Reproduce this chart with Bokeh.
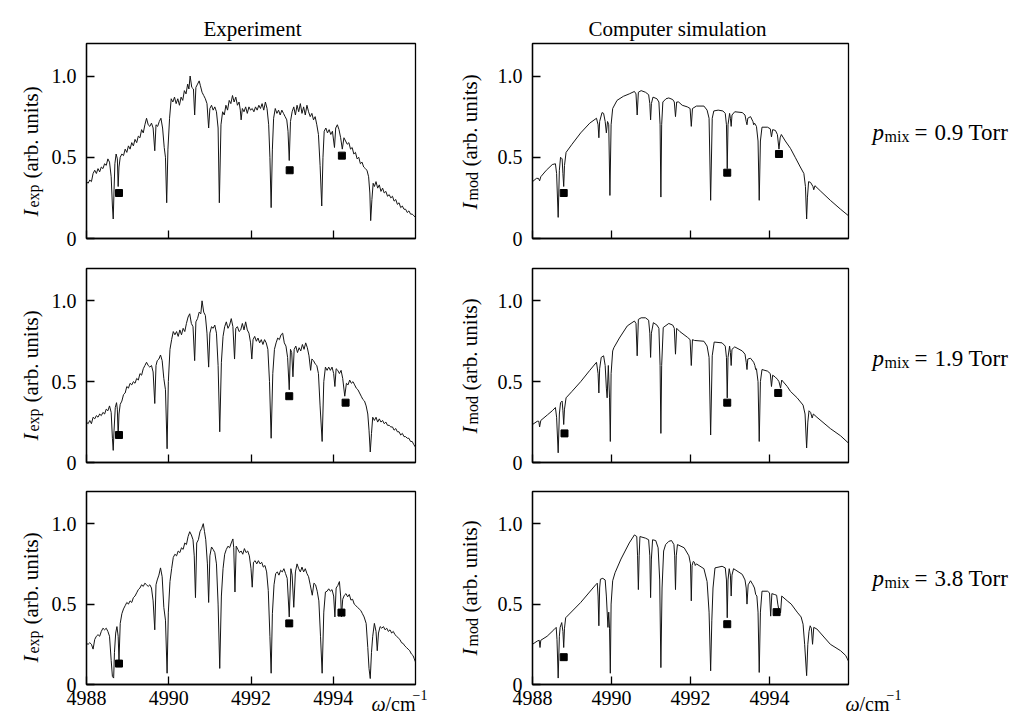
import math
from bokeh.plotting import figure
from bokeh.layouts import column, row
from bokeh.models import Label, FixedTicker, Range1d, GridBox
from bokeh.embed import file_html
from bokeh.resources import INLINE

# ---------------- data ----------------
row_pressures = ["0.9", "1.9", "3.8"]
x_ticks = [4988, 4990, 4992, 4994]
y_ticks = [0, 0.5, 1.0]

exp_09 = [(4988.00,.35),(4988.04,.34),(4988.08,.36),(4988.12,.35),(4988.16,.40),(4988.20,.42),(4988.24,.40),(4988.28,.43),(4988.32,.41),(4988.36,.44),(4988.40,.43),(4988.44,.46),(4988.48,.45),(4988.52,.49),(4988.56,.47),(4988.60,.38),(4988.63,.20),(4988.65,.12),(4988.67,.30),(4988.69,.46),(4988.72,.52),(4988.75,.49),(4988.77,.32),(4988.79,.44),(4988.82,.50),(4988.86,.52),(4988.90,.51),(4988.94,.55),(4988.98,.53),(4989.02,.57),(4989.06,.55),(4989.10,.59),(4989.14,.57),(4989.18,.61),(4989.22,.59),(4989.26,.63),(4989.30,.62),(4989.34,.67),(4989.38,.65),(4989.42,.70),(4989.46,.74),(4989.50,.70),(4989.54,.69),(4989.58,.71),(4989.62,.68),(4989.66,.54),(4989.69,.70),(4989.73,.69),(4989.77,.72),(4989.81,.74),(4989.85,.68),(4989.89,.56),(4989.92,.50),(4989.95,.22),(4989.98,.55),(4990.02,.74),(4990.06,.86),(4990.10,.84),(4990.14,.87),(4990.18,.83),(4990.22,.86),(4990.26,.82),(4990.30,.87),(4990.34,.85),(4990.38,.91),(4990.42,.89),(4990.46,.95),(4990.49,.92),(4990.52,1.0),(4990.56,.93),(4990.60,.92),(4990.63,.76),(4990.66,.93),(4990.70,.95),(4990.74,.97),(4990.77,.94),(4990.81,.90),(4990.85,.88),(4990.89,.86),(4990.93,.83),(4990.97,.68),(4991.00,.80),(4991.04,.82),(4991.08,.79),(4991.12,.81),(4991.16,.78),(4991.20,.68),(4991.23,.22),(4991.27,.70),(4991.31,.78),(4991.35,.76),(4991.39,.82),(4991.43,.79),(4991.47,.85),(4991.51,.83),(4991.55,.88),(4991.59,.84),(4991.63,.87),(4991.67,.82),(4991.71,.84),(4991.74,.79),(4991.76,.73),(4991.79,.80),(4991.83,.78),(4991.87,.81),(4991.91,.77),(4991.95,.81),(4991.99,.79),(4992.03,.80),(4992.07,.78),(4992.11,.81),(4992.15,.79),(4992.19,.82),(4992.23,.80),(4992.27,.83),(4992.31,.79),(4992.35,.84),(4992.39,.80),(4992.43,.70),(4992.46,.50),(4992.49,.19),(4992.52,.55),(4992.55,.74),(4992.59,.80),(4992.63,.77),(4992.67,.79),(4992.71,.76),(4992.75,.79),(4992.79,.77),(4992.83,.75),(4992.87,.73),(4992.90,.66),(4992.93,.48),(4992.96,.72),(4993.00,.78),(4993.04,.81),(4993.08,.76),(4993.12,.82),(4993.16,.78),(4993.20,.83),(4993.24,.77),(4993.28,.81),(4993.32,.76),(4993.36,.82),(4993.40,.78),(4993.44,.75),(4993.48,.77),(4993.52,.73),(4993.56,.75),(4993.60,.70),(4993.64,.64),(4993.68,.45),(4993.72,.20),(4993.75,.50),(4993.78,.66),(4993.82,.68),(4993.86,.65),(4993.90,.67),(4993.94,.64),(4993.98,.66),(4994.01,.60),(4994.03,.56),(4994.06,.68),(4994.10,.70),(4994.14,.67),(4994.18,.62),(4994.22,.55),(4994.26,.62),(4994.30,.60),(4994.34,.58),(4994.38,.59),(4994.42,.55),(4994.46,.56),(4994.50,.52),(4994.54,.53),(4994.58,.49),(4994.62,.50),(4994.66,.46),(4994.70,.47),(4994.74,.44),(4994.78,.43),(4994.82,.42),(4994.86,.38),(4994.89,.28),(4994.91,.11),(4994.94,.24),(4994.97,.34),(4995.00,.32),(4995.04,.35),(4995.08,.31),(4995.12,.33),(4995.16,.29),(4995.20,.31),(4995.24,.28),(4995.28,.29),(4995.32,.26),(4995.36,.27),(4995.40,.25),(4995.44,.26),(4995.48,.23),(4995.52,.24),(4995.56,.21),(4995.60,.22),(4995.64,.19),(4995.68,.20),(4995.72,.18),(4995.76,.18),(4995.80,.16),(4995.84,.17),(4995.88,.15),(4995.92,.15),(4995.96,.14),(4996.00,.13)]

exp_19 = [(4988.00,.25),(4988.04,.24),(4988.08,.26),(4988.12,.24),(4988.16,.28),(4988.20,.27),(4988.24,.29),(4988.28,.28),(4988.32,.30),(4988.36,.29),(4988.40,.31),(4988.44,.30),(4988.48,.33),(4988.52,.32),(4988.56,.35),(4988.60,.31),(4988.63,.15),(4988.65,.075),(4988.67,.20),(4988.70,.34),(4988.73,.37),(4988.75,.33),(4988.77,.16),(4988.79,.30),(4988.82,.36),(4988.86,.38),(4988.90,.42),(4988.94,.43),(4988.98,.47),(4989.02,.46),(4989.06,.49),(4989.10,.48),(4989.14,.50),(4989.18,.49),(4989.22,.52),(4989.26,.51),(4989.30,.55),(4989.34,.54),(4989.38,.58),(4989.42,.60),(4989.46,.62),(4989.50,.60),(4989.54,.59),(4989.58,.60),(4989.62,.56),(4989.66,.365),(4989.69,.60),(4989.72,.63),(4989.76,.64),(4989.80,.665),(4989.84,.63),(4989.88,.52),(4989.92,.45),(4989.96,.085),(4989.99,.50),(4990.03,.70),(4990.07,.76),(4990.11,.81),(4990.15,.79),(4990.19,.81),(4990.23,.78),(4990.27,.82),(4990.31,.79),(4990.35,.83),(4990.39,.81),(4990.43,.86),(4990.47,.90),(4990.51,.92),(4990.55,.86),(4990.59,.84),(4990.63,.63),(4990.66,.87),(4990.70,.89),(4990.74,.93),(4990.78,.92),(4990.81,1.0),(4990.85,.93),(4990.89,.91),(4990.93,.80),(4990.97,.59),(4991.00,.80),(4991.04,.84),(4991.08,.83),(4991.12,.85),(4991.16,.80),(4991.20,.60),(4991.24,.19),(4991.28,.62),(4991.32,.78),(4991.36,.84),(4991.40,.87),(4991.44,.83),(4991.48,.85),(4991.52,.89),(4991.56,.84),(4991.60,.64),(4991.63,.83),(4991.67,.84),(4991.71,.81),(4991.75,.82),(4991.79,.86),(4991.83,.82),(4991.87,.87),(4991.91,.82),(4991.95,.80),(4991.99,.74),(4992.02,.64),(4992.05,.76),(4992.09,.78),(4992.13,.75),(4992.17,.77),(4992.21,.74),(4992.25,.76),(4992.29,.73),(4992.33,.76),(4992.37,.74),(4992.41,.70),(4992.45,.50),(4992.49,.15),(4992.53,.55),(4992.57,.70),(4992.61,.74),(4992.65,.77),(4992.69,.76),(4992.73,.79),(4992.77,.80),(4992.81,.74),(4992.85,.72),(4992.89,.65),(4992.93,.45),(4992.96,.70),(4992.99,.68),(4993.02,.53),(4993.05,.70),(4993.09,.72),(4993.13,.68),(4993.17,.71),(4993.21,.69),(4993.25,.73),(4993.29,.70),(4993.33,.74),(4993.37,.71),(4993.41,.66),(4993.45,.57),(4993.48,.64),(4993.52,.63),(4993.56,.61),(4993.60,.60),(4993.64,.55),(4993.68,.35),(4993.73,.13),(4993.77,.50),(4993.81,.59),(4993.85,.57),(4993.89,.59),(4993.93,.57),(4993.97,.59),(4994.01,.55),(4994.04,.47),(4994.07,.58),(4994.11,.57),(4994.15,.55),(4994.19,.57),(4994.23,.52),(4994.28,.41),(4994.32,.49),(4994.36,.48),(4994.40,.51),(4994.44,.49),(4994.48,.50),(4994.52,.48),(4994.56,.46),(4994.60,.45),(4994.64,.43),(4994.68,.41),(4994.72,.39),(4994.76,.38),(4994.80,.35),(4994.84,.30),(4994.87,.20),(4994.90,.065),(4994.93,.18),(4994.96,.28),(4995.00,.26),(4995.04,.28),(4995.08,.25),(4995.12,.27),(4995.16,.25),(4995.20,.26),(4995.24,.24),(4995.28,.25),(4995.32,.23),(4995.36,.23),(4995.40,.22),(4995.44,.22),(4995.48,.20),(4995.52,.21),(4995.56,.19),(4995.60,.19),(4995.64,.17),(4995.68,.18),(4995.72,.16),(4995.76,.16),(4995.80,.15),(4995.84,.15),(4995.88,.13),(4995.92,.13),(4995.96,.11),(4996.00,.095)]

exp_38 = [(4988.00,.255),(4988.04,.25),(4988.08,.26),(4988.12,.25),(4988.16,.22),(4988.20,.28),(4988.24,.30),(4988.28,.31),(4988.32,.30),(4988.36,.33),(4988.40,.35),(4988.44,.34),(4988.48,.35),(4988.52,.33),(4988.56,.30),(4988.60,.15),(4988.63,.05),(4988.66,.04),(4988.68,.20),(4988.71,.32),(4988.74,.36),(4988.77,.30),(4988.79,.15),(4988.82,.38),(4988.86,.44),(4988.90,.47),(4988.94,.49),(4988.98,.51),(4989.02,.50),(4989.06,.52),(4989.10,.51),(4989.14,.54),(4989.18,.55),(4989.22,.57),(4989.26,.59),(4989.30,.60),(4989.34,.62),(4989.38,.61),(4989.42,.63),(4989.46,.62),(4989.50,.61),(4989.54,.62),(4989.58,.60),(4989.62,.52),(4989.66,.34),(4989.69,.62),(4989.72,.65),(4989.76,.68),(4989.80,.725),(4989.84,.67),(4989.88,.48),(4989.92,.40),(4989.96,.07),(4989.99,.45),(4990.03,.64),(4990.07,.72),(4990.11,.79),(4990.15,.81),(4990.19,.80),(4990.23,.83),(4990.27,.82),(4990.31,.85),(4990.35,.84),(4990.39,.88),(4990.43,.87),(4990.47,.92),(4990.51,.95),(4990.55,.93),(4990.59,.90),(4990.62,.80),(4990.65,.54),(4990.68,.88),(4990.72,.90),(4990.76,.95),(4990.80,.97),(4990.84,1.0),(4990.87,.95),(4990.90,.90),(4990.94,.75),(4990.97,.51),(4991.00,.80),(4991.04,.855),(4991.08,.84),(4991.12,.82),(4991.16,.75),(4991.20,.50),(4991.24,.10),(4991.28,.55),(4991.32,.72),(4991.36,.81),(4991.40,.84),(4991.44,.86),(4991.48,.85),(4991.52,.88),(4991.56,.905),(4991.58,.85),(4991.61,.575),(4991.64,.86),(4991.68,.84),(4991.72,.82),(4991.76,.83),(4991.80,.81),(4991.84,.845),(4991.88,.82),(4991.92,.83),(4991.96,.80),(4992.00,.72),(4992.03,.605),(4992.06,.76),(4992.10,.77),(4992.14,.75),(4992.18,.77),(4992.22,.75),(4992.26,.76),(4992.30,.73),(4992.34,.74),(4992.38,.70),(4992.42,.585),(4992.46,.30),(4992.49,.07),(4992.52,.44),(4992.56,.62),(4992.60,.69),(4992.64,.70),(4992.68,.68),(4992.72,.71),(4992.76,.70),(4992.80,.72),(4992.84,.69),(4992.88,.66),(4992.93,.42),(4992.97,.72),(4993.00,.68),(4993.04,.48),(4993.08,.70),(4993.12,.75),(4993.16,.72),(4993.20,.70),(4993.24,.73),(4993.28,.70),(4993.32,.72),(4993.36,.69),(4993.40,.67),(4993.44,.62),(4993.49,.555),(4993.53,.63),(4993.57,.62),(4993.61,.58),(4993.65,.52),(4993.69,.30),(4993.73,.07),(4993.77,.45),(4993.81,.575),(4993.85,.58),(4993.89,.595),(4993.93,.58),(4993.97,.59),(4994.01,.55),(4994.04,.42),(4994.07,.60),(4994.11,.615),(4994.15,.64),(4994.18,.55),(4994.20,.42),(4994.23,.53),(4994.27,.555),(4994.31,.565),(4994.35,.545),(4994.39,.56),(4994.43,.525),(4994.47,.53),(4994.51,.50),(4994.55,.49),(4994.59,.48),(4994.63,.47),(4994.67,.46),(4994.71,.44),(4994.75,.42),(4994.80,.38),(4994.84,.23),(4994.87,.10),(4994.90,.037),(4994.93,.20),(4994.96,.30),(4995.00,.38),(4995.04,.33),(4995.07,.21),(4995.10,.32),(4995.14,.36),(4995.18,.35),(4995.22,.36),(4995.26,.34),(4995.30,.35),(4995.34,.33),(4995.38,.34),(4995.42,.32),(4995.46,.33),(4995.50,.31),(4995.54,.30),(4995.58,.29),(4995.62,.28),(4995.66,.26),(4995.70,.255),(4995.74,.24),(4995.78,.23),(4995.82,.22),(4995.86,.21),(4995.90,.19),(4995.94,.18),(4995.97,.16),(4996.00,.14)]

sim_09 = [(4988.00,.35),(4988.10,.37),(4988.15,.37),(4988.18,.355),(4988.21,.38),(4988.35,.42),(4988.50,.455),(4988.58,.46),(4988.61,.40),(4988.65,.13),(4988.68,.42),(4988.71,.50),(4988.75,.49),(4988.77,.40),(4988.79,.32),(4988.81,.45),(4988.85,.53),(4989.00,.58),(4989.22,.65),(4989.45,.71),(4989.62,.74),(4989.66,.70),(4989.68,.62),(4989.70,.72),(4989.76,.775),(4989.80,.77),(4989.84,.72),(4989.87,.65),(4989.90,.72),(4989.93,.70),(4989.96,.265),(4989.99,.70),(4990.03,.80),(4990.14,.85),(4990.30,.875),(4990.45,.89),(4990.58,.905),(4990.62,.89),(4990.65,.76),(4990.68,.90),(4990.75,.91),(4990.86,.90),(4990.94,.885),(4990.97,.83),(4990.99,.73),(4991.01,.83),(4991.05,.87),(4991.15,.86),(4991.20,.84),(4991.23,.70),(4991.25,.255),(4991.27,.70),(4991.30,.84),(4991.38,.86),(4991.45,.865),(4991.55,.855),(4991.59,.84),(4991.62,.75),(4991.65,.84),(4991.70,.84),(4991.79,.82),(4991.92,.81),(4991.99,.80),(4992.02,.69),(4992.05,.80),(4992.15,.815),(4992.34,.815),(4992.42,.79),(4992.47,.74),(4992.51,.235),(4992.55,.74),(4992.59,.785),(4992.70,.79),(4992.82,.785),(4992.88,.77),(4992.91,.70),(4992.93,.43),(4992.95,.70),(4992.99,.77),(4993.01,.74),(4993.03,.69),(4993.05,.76),(4993.12,.78),(4993.31,.775),(4993.38,.76),(4993.41,.72),(4993.43,.70),(4993.45,.74),(4993.52,.75),(4993.58,.72),(4993.60,.70),(4993.62,.71),(4993.67,.69),(4993.71,.60),(4993.74,.235),(4993.77,.60),(4993.81,.685),(4993.95,.685),(4994.02,.675),(4994.05,.625),(4994.08,.67),(4994.15,.665),(4994.20,.64),(4994.24,.55),(4994.27,.62),(4994.30,.64),(4994.40,.60),(4994.53,.555),(4994.65,.50),(4994.78,.44),(4994.87,.40),(4994.91,.32),(4994.94,.12),(4994.96,.25),(4994.99,.35),(4995.04,.345),(4995.10,.32),(4995.12,.30),(4995.15,.325),(4995.30,.29),(4995.54,.235),(4995.80,.18),(4996.00,.14)]

sim_19 = [(4988.00,.235),(4988.12,.255),(4988.16,.255),(4988.18,.22),(4988.21,.26),(4988.38,.295),(4988.50,.32),(4988.58,.34),(4988.61,.28),(4988.65,.06),(4988.68,.30),(4988.71,.37),(4988.75,.38),(4988.77,.32),(4988.79,.235),(4988.81,.33),(4988.85,.40),(4989.00,.44),(4989.22,.50),(4989.45,.57),(4989.62,.62),(4989.66,.55),(4989.68,.43),(4989.70,.58),(4989.74,.65),(4989.80,.66),(4989.84,.60),(4989.87,.46),(4989.89,.40),(4989.92,.60),(4989.95,.40),(4989.97,.13),(4989.99,.55),(4990.03,.69),(4990.06,.71),(4990.20,.77),(4990.40,.845),(4990.58,.875),(4990.62,.86),(4990.65,.66),(4990.68,.885),(4990.75,.895),(4990.86,.895),(4990.94,.88),(4990.97,.80),(4990.99,.65),(4991.01,.80),(4991.06,.865),(4991.15,.85),(4991.20,.83),(4991.23,.60),(4991.25,.18),(4991.27,.60),(4991.31,.835),(4991.45,.86),(4991.55,.85),(4991.59,.83),(4991.62,.67),(4991.65,.83),(4991.73,.81),(4991.92,.775),(4991.99,.76),(4992.02,.60),(4992.05,.76),(4992.10,.755),(4992.34,.75),(4992.42,.72),(4992.47,.65),(4992.51,.17),(4992.55,.66),(4992.60,.745),(4992.80,.74),(4992.88,.72),(4992.91,.65),(4992.93,.40),(4992.95,.65),(4992.99,.72),(4993.01,.68),(4993.03,.60),(4993.05,.70),(4993.12,.715),(4993.31,.69),(4993.38,.67),(4993.41,.62),(4993.43,.575),(4993.45,.64),(4993.52,.645),(4993.60,.62),(4993.63,.60),(4993.65,.575),(4993.67,.58),(4993.71,.50),(4993.74,.13),(4993.77,.50),(4993.81,.575),(4993.95,.565),(4994.02,.55),(4994.05,.47),(4994.08,.54),(4994.14,.53),(4994.20,.515),(4994.24,.50),(4994.28,.46),(4994.31,.51),(4994.45,.47),(4994.53,.44),(4994.70,.40),(4994.85,.355),(4994.90,.30),(4994.94,.09),(4994.97,.25),(4995.00,.32),(4995.04,.31),(4995.08,.275),(4995.11,.30),(4995.20,.28),(4995.54,.21),(4995.80,.165),(4996.00,.12)]

sim_38 = [(4988.00,.25),(4988.12,.27),(4988.17,.275),(4988.19,.23),(4988.21,.275),(4988.37,.30),(4988.54,.34),(4988.60,.355),(4988.62,.28),(4988.65,.04),(4988.68,.30),(4988.70,.355),(4988.74,.385),(4988.77,.33),(4988.79,.23),(4988.81,.35),(4988.84,.415),(4989.22,.51),(4989.60,.62),(4989.64,.63),(4989.66,.55),(4989.68,.365),(4989.70,.60),(4989.72,.655),(4989.78,.66),(4989.84,.65),(4989.87,.55),(4989.91,.355),(4989.93,.45),(4989.95,.35),(4989.97,.07),(4989.99,.50),(4990.03,.645),(4990.09,.695),(4990.24,.78),(4990.45,.88),(4990.58,.93),(4990.64,.92),(4990.66,.80),(4990.68,.59),(4990.70,.80),(4990.72,.92),(4990.86,.91),(4990.94,.90),(4990.97,.80),(4990.99,.54),(4991.01,.78),(4991.04,.90),(4991.12,.895),(4991.18,.85),(4991.22,.65),(4991.25,.105),(4991.28,.60),(4991.32,.83),(4991.37,.87),(4991.45,.89),(4991.52,.895),(4991.58,.87),(4991.60,.80),(4991.62,.59),(4991.64,.80),(4991.67,.87),(4991.84,.85),(4991.96,.80),(4992.00,.75),(4992.02,.52),(4992.04,.74),(4992.07,.765),(4992.10,.76),(4992.12,.74),(4992.15,.75),(4992.34,.72),(4992.42,.64),(4992.47,.45),(4992.51,.085),(4992.54,.40),(4992.57,.60),(4992.62,.725),(4992.80,.735),(4992.88,.725),(4992.91,.65),(4992.93,.415),(4992.95,.65),(4992.98,.72),(4993.01,.68),(4993.03,.55),(4993.05,.68),(4993.09,.72),(4993.31,.685),(4993.38,.65),(4993.41,.60),(4993.43,.50),(4993.46,.62),(4993.52,.645),(4993.58,.62),(4993.62,.60),(4993.65,.56),(4993.68,.55),(4993.71,.45),(4993.74,.075),(4993.77,.45),(4993.81,.58),(4993.95,.58),(4994.00,.57),(4994.03,.425),(4994.06,.565),(4994.12,.56),(4994.18,.555),(4994.21,.50),(4994.24,.46),(4994.28,.445),(4994.31,.55),(4994.45,.52),(4994.55,.50),(4994.70,.45),(4994.80,.42),(4994.85,.375),(4994.89,.25),(4994.94,.055),(4994.97,.25),(4995.00,.33),(4995.03,.365),(4995.06,.35),(4995.09,.25),(4995.12,.355),(4995.20,.345),(4995.54,.25),(4995.80,.21),(4995.93,.18),(4995.97,.16),(4996.00,.145)]

# square markers (wavenumber, intensity)
marks_exp_09 = [(4988.79, .28), (4992.94, .42), (4994.21, .51)]
marks_sim_09 = [(4988.79, .28), (4992.93, .405), (4994.24, .52)]
marks_exp_19 = [(4988.79, .17), (4992.93, .41), (4994.30, .37)]
marks_sim_19 = [(4988.81, .18), (4992.93, .37), (4994.22, .43)]
marks_exp_38 = [(4988.79, .13), (4992.93, .38), (4994.20, .447)]
marks_sim_38 = [(4988.79, .17), (4992.93, .375), (4994.18, .45)]

spectra = [[exp_09, sim_09], [exp_19, sim_19], [exp_38, sim_38]]
markers = [[marks_exp_09, marks_sim_09], [marks_exp_19, marks_sim_19], [marks_exp_38, marks_sim_38]]

# ---------------- layout geometry (page pixels) ----------------
FONT = "Liberation Serif"
W, H = 1024, 720
COLS = [dict(left=86, frame=329, right=30), dict(left=87, frame=316, right=176)]
ROWS = [dict(top=43, frame=195, bottom=28), dict(top=2, frame=194, bottom=27), dict(top=2, frame=193, bottom=32)]
XR = (4988, 4996)
YR = (0, 1.2)

col_x0 = [0, COLS[0]["left"] + COLS[0]["frame"] + COLS[0]["right"]]
row_y0 = [0]
for r in ROWS[:-1]:
    row_y0.append(row_y0[-1] + r["top"] + r["frame"] + r["bottom"])

rows_out = []
for ri in range(3):
    figs = []
    for ci in range(2):
        c, r = COLS[ci], ROWS[ri]
        p = figure(width=c["left"] + c["frame"] + c["right"], height=r["top"] + r["frame"] + r["bottom"],
                   x_range=Range1d(*XR), y_range=Range1d(*YR),
                   min_border_left=c["left"], min_border_right=c["right"],
                   min_border_top=r["top"], min_border_bottom=r["bottom"],
                   output_backend="svg", toolbar_location=None)
        p.title.visible = False
        p.xgrid.visible = False
        p.ygrid.visible = False
        p.outline_line_color = "black"
        p.outline_line_width = 1.3
        p.background_fill_color = "white"
        p.border_fill_color = "white"
        for ax in (p.xaxis[0], p.yaxis[0]):
            ax.axis_line_color = "black"
            ax.axis_line_width = 1.3
            ax.major_tick_line_color = "black"
            ax.major_tick_line_width = 1.3
            ax.major_tick_in = 8
            ax.major_tick_out = 0
            ax.minor_tick_line_color = None
            ax.major_label_text_font = FONT
            ax.major_label_text_font_size = "20px"
            ax.major_label_text_color = "black"
        p.xaxis[0].ticker = FixedTicker(ticks=x_ticks)
        p.yaxis[0].ticker = FixedTicker(ticks=y_ticks)
        p.yaxis[0].major_label_overrides = {0: "0", 0.5: "0.5", 1: "1.0"}
        p.yaxis[0].major_label_standoff = 10
        p.xaxis[0].major_label_standoff = 6
        if ri < 2:
            p.xaxis[0].major_label_text_color = None
            p.xaxis[0].major_label_standoff = 0

        data = spectra[ri][ci]
        p.line([d[0] for d in data], [d[1] for d in data], line_color="#151515", line_width=1)
        mk = markers[ri][ci]
        p.scatter([m[0] for m in mk], [m[1] for m in mk], marker="square", size=7,
                  fill_color="black", line_color="black")
        figs.append(p)
    rows_out.append(row(*figs))

main = column(*rows_out)

# ---------------- transparent text layer (page-pixel coordinates) ----------------
ov = figure(width=W, height=H, x_range=Range1d(0, W), y_range=Range1d(H, 0),
            min_border=0, x_axis_location=None, y_axis_location=None,
            output_backend="svg", toolbar_location=None)
ov.title.visible = False
ov.grid.visible = False
ov.outline_line_color = None
ov.background_fill_color = None
ov.border_fill_color = None


def txt(px, py, text, size, style="normal", align="left", angle=0.0):
    ov.add_layout(Label(x=px, y=py, text=text, text_font=FONT, text_font_size=f"{size}px",
                        text_font_style=style, text_align=align, text_baseline="alphabetic",
                        angle=angle, text_color="black"))


txt(252, 28, "Experiment", 21, align="center")
txt(677, 28, "Computer simulation", 21, align="center")

for ri in range(3):
    fy1 = row_y0[ri] + ROWS[ri]["top"] + ROWS[ri]["frame"]
    # rotated y labels: main symbol + subscript + units
    for bx, sub, s, subw in ((30, "exp", fy1 - 22, 23), (469, "mod", fy1 - 29, 28)):
        txt(bx, s, "I", 21, style="italic", angle=math.pi / 2)
        txt(bx + 3, s - 9, sub, 16, angle=math.pi / 2)
        txt(bx, s - 9 - subw - 6, "(arb. units)", 21, angle=math.pi / 2)
    # pressure annotation
    by = [132, 358, 578][ri]
    txt(872, by, "p", 23, style="italic")
    txt(884, by + 4, "mix", 16)
    txt(914, by, "=", 23)
    txt(934, by, f"{row_pressures[ri]} Torr", 23)

# x unit label next to the last tick label of the bottom row
for ox in (371, 845):
    txt(ox, 703, "\u03c9", 20, style="italic")
    txt(ox + 14, 703, "/cm", 20)
    txt(ox + 41, 694, "\u22121", 14)

page = GridBox(children=[(main, 0, 0), (ov, 0, 0)])
open("out.html", "w").write(file_html(page, INLINE))
